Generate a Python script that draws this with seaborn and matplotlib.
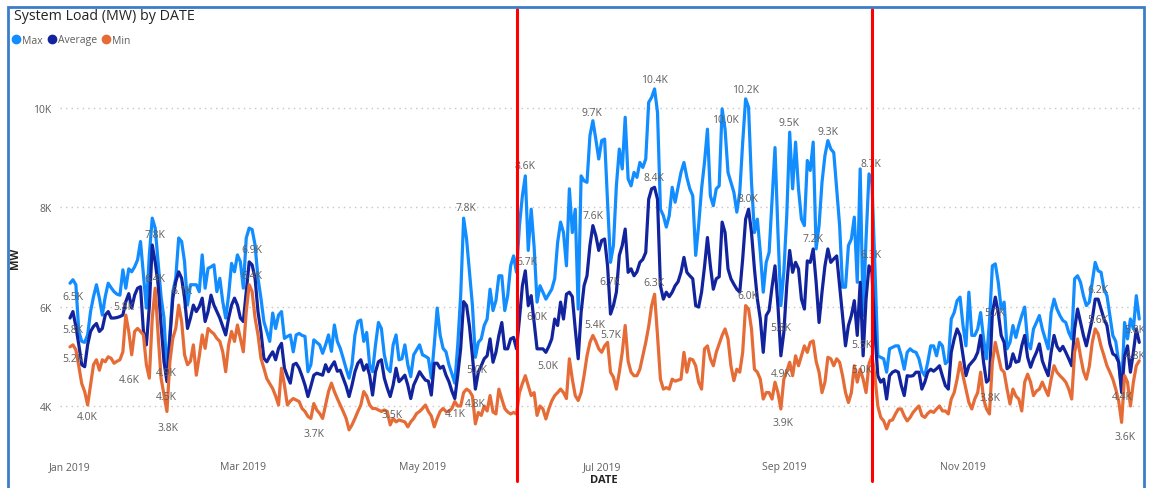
import pandas as pd
import numpy as np
import seaborn as sns
import matplotlib.pyplot as plt
from matplotlib.lines import Line2D
from matplotlib.patches import Rectangle

# Daily system load for 2019 in thousands of MW (1 Jan .. 31 Dec)
max_k = [
    6.47, 6.54, 6.44, 5.5, 5.3, 5.28, 5.43, 5.9, 6.2, 6.44, 6.17, 5.83, 6.2, 6.47, 6.38, 6.3, 6.25, 6.23, 6.74, 6.37, 6.76, 6.7, 6.8, 6.94, 7.31, 6.64, 5.97, 7.04, 7.78, 7.58, 6.9,
    6.2, 5.77, 4.62, 5.43, 6.3, 6.57, 7.38, 7.31, 6.9, 6.03, 6.44, 6.44, 6.44, 6.3, 7.04, 6.37, 6.77, 6.8, 6.84, 6.3, 6.57, 6.1, 5.77, 6.23, 6.87, 6.7, 7.04, 6.9,
    6.37, 7.38, 7.58, 7.55, 7.24, 6.57, 6.17, 5.7, 5.5, 5.3, 5.87, 5.56, 5.83, 5.9, 5.36, 5.4, 5.43, 5.09, 5.43, 5.46, 5.42, 5.4, 4.69, 4.83, 5.33, 5.28, 5.23, 5.06, 5.23, 5.43, 5.1,
    5.63, 5.3, 5.16, 4.96, 4.75, 4.56, 4.83, 5.43, 5.7, 5.73, 5.3, 5.48, 4.83, 4.69, 5.23, 5.68, 5.56, 5.03, 4.76, 4.69, 5.23, 5.43, 4.93, 4.95, 5.23, 4.83, 4.59, 5.03, 5.13, 5.23,
    5.03, 5.0, 4.96, 4.56, 5.23, 5.97, 5.43, 5.16, 5.09, 4.83, 4.65, 4.46, 5.23, 6.23, 7.78, 7.36, 6.7, 6.02, 4.98, 5.28, 5.35, 5.62, 5.75, 6.35, 5.92, 6.12, 6.62, 6.62, 5.92, 6.22, 6.82,
    7.02, 6.69, 7.63, 8.23, 8.63, 7.13, 7.96, 7.2, 6.09, 6.42, 6.29, 6.15, 6.25, 6.35, 6.56, 7.29, 7.7, 7.49, 6.82, 8.37, 7.49, 7.96, 5.95, 8.63, 8.53, 8.5, 9.44, 9.74, 9.37, 8.97,
    9.34, 9.37, 8.1, 6.89, 7.23, 8.43, 9.17, 8.77, 9.81, 8.57, 8.43, 8.7, 8.6, 8.9, 8.8, 8.97, 10.11, 10.21, 10.38, 9.91, 7.96, 7.83, 7.6, 7.83, 8.4, 8.1, 8.4, 8.7, 8.9, 8.6, 8.37,
    8.23, 7.03, 7.63, 8.37, 8.9, 9.57, 8.23, 8.03, 8.37, 8.43, 9.98, 9.57, 8.7, 8.5, 8.3, 7.9, 8.3, 9.3, 10.18, 10.01, 8.5, 7.49, 7.76, 7.09, 6.29, 6.89, 7.09, 8.16, 9.2, 7.5, 6.02,
    6.69, 7.83, 9.51, 8.37, 9.31, 8.37, 7.76, 7.63, 8.94, 8.74, 9.31, 7.16, 7.63, 8.5, 9.04, 9.34, 9.17, 9.1, 8.37, 7.63, 6.39, 6.39, 7.23, 7.36, 7.8, 6.49, 8.77, 5.82, 7.36, 8.67,
    8.5, 6.82, 5.01, 4.98, 4.95, 4.68, 5.15, 5.18, 5.21, 5.21, 5.01, 4.74, 5.08, 5.15, 5.1, 5.08, 4.95, 4.7, 4.61, 4.88, 5.21, 5.21, 5.01, 5.28, 5.21, 4.85, 4.91, 5.75, 5.88, 6.12, 6.19,
    5.62, 5.21, 6.29, 5.42, 5.42, 5.55, 5.88, 5.35, 4.95, 5.68, 6.82, 6.86, 6.49, 5.95, 6.09, 5.15, 5.28, 5.62, 5.38, 5.62, 5.82, 5.99, 5.28, 5.15, 5.55, 5.68, 5.82, 5.55, 5.35, 5.15,
    5.88, 6.15, 5.95, 5.82, 5.72, 5.68, 5.48, 5.35, 6.56, 6.62, 6.49, 6.22, 6.02, 6.09, 6.49, 6.89, 6.72, 6.69, 6.35, 6.22, 5.82, 5.42, 5.3, 4.88, 4.34, 5.68, 5.35, 5.75, 5.55, 6.22, 5.75,
]
avg_k = [
    5.77, 5.9, 5.6, 5.23, 4.83, 4.79, 5.23, 5.5, 5.6, 5.66, 5.5, 5.56, 5.83, 5.9, 5.77, 5.77, 5.78, 5.8, 5.83, 6.1, 6.26, 5.97, 6.23, 6.37, 6.4, 5.5, 5.23, 6.0, 7.24, 6.9, 6.44,
    5.63, 4.89, 4.49, 5.36, 6.17, 6.5, 6.7, 6.57, 6.17, 5.56, 5.77, 6.03, 5.9, 6.0, 6.17, 5.7, 5.9, 6.23, 6.03, 5.9, 5.77, 5.6, 5.43, 5.77, 6.03, 6.17, 6.03, 5.77,
    5.7, 6.3, 6.9, 6.84, 6.57, 5.9, 5.5, 4.96, 4.89, 5.0, 5.09, 4.93, 5.16, 5.26, 4.76, 4.6, 4.46, 4.83, 4.86, 4.76, 4.6, 4.42, 4.19, 4.4, 4.62, 4.66, 4.64, 4.62, 4.83, 4.69, 4.8,
    4.89, 4.7, 4.72, 4.56, 4.4, 4.19, 4.42, 4.69, 4.86, 4.93, 4.72, 4.83, 4.62, 4.22, 4.69, 4.89, 4.93, 4.56, 4.36, 4.19, 4.42, 4.76, 4.49, 4.55, 4.62, 4.42, 4.15, 4.42, 4.55, 4.69,
    4.6, 4.52, 4.5, 4.22, 4.86, 4.86, 4.76, 4.8, 4.62, 4.49, 4.3, 4.15, 4.62, 5.16, 6.1, 6.02, 5.6, 5.0, 4.34, 4.68, 4.81, 4.95, 5.01, 5.35, 4.88, 5.08, 5.42, 5.68, 5.15, 5.15, 5.35,
    5.38, 5.15, 5.75, 6.42, 6.72, 6.02, 6.22, 5.68, 5.15, 5.15, 5.15, 5.08, 5.2, 5.35, 5.75, 5.62, 6.09, 5.75, 6.25, 6.29, 6.2, 5.55, 4.95, 5.89, 6.42, 6.62, 7.23, 7.63, 7.43, 7.13,
    7.33, 7.36, 6.82, 5.85, 6.02, 6.29, 7.03, 7.23, 7.56, 6.69, 6.76, 6.62, 6.7, 6.89, 6.95, 7.09, 8.16, 8.37, 8.4, 8.16, 6.42, 6.15, 6.29, 6.2, 6.29, 6.42, 6.5, 6.69, 6.99, 6.69, 6.62,
    6.56, 6.02, 5.99, 6.29, 6.8, 7.39, 6.82, 6.35, 6.56, 6.6, 7.7, 7.49, 6.76, 6.56, 6.45, 6.35, 6.29, 6.96, 7.76, 7.96, 7.49, 6.76, 6.15, 5.75, 5.08, 5.82, 5.92, 6.4, 6.82, 6.02, 5.01,
    5.48, 6.42, 7.13, 6.69, 6.89, 6.76, 6.15, 5.95, 6.92, 6.89, 7.16, 6.49, 5.68, 6.29, 6.82, 7.16, 6.89, 6.96, 7.02, 6.42, 5.82, 5.21, 5.62, 5.82, 6.12, 5.42, 6.49, 5.01, 6.15, 6.82,
    6.69, 5.48, 4.61, 4.48, 4.54, 4.14, 4.61, 4.68, 4.71, 4.68, 4.41, 4.21, 4.61, 4.6, 4.61, 4.68, 4.68, 4.34, 4.48, 4.68, 4.74, 4.7, 4.75, 4.81, 4.6, 4.41, 4.34, 5.08, 5.35, 5.55, 5.42,
    5.01, 4.61, 4.81, 4.88, 4.95, 5.08, 5.42, 4.88, 4.48, 4.54, 5.88, 6.19, 5.88, 5.42, 5.28, 4.75, 4.8, 5.05, 4.88, 4.9, 5.21, 5.42, 4.98, 4.78, 4.95, 5.08, 5.25, 4.91, 4.75, 4.61,
    5.08, 5.42, 5.2, 5.11, 5.2, 5.08, 4.95, 4.81, 5.55, 5.95, 5.68, 5.42, 5.21, 5.48, 5.75, 6.15, 6.15, 5.95, 5.75, 5.62, 5.25, 5.05, 5.01, 4.88, 4.27, 5.0, 5.21, 4.68, 5.08, 5.55, 5.28,
]
min_k = [
    5.19, 5.23, 5.13, 4.8, 4.45, 4.29, 4.02, 4.42, 4.83, 4.93, 4.72, 4.93, 4.89, 4.99, 4.96, 4.86, 4.9, 4.93, 5.09, 5.83, 5.5, 5.03, 5.5, 5.56, 5.5, 5.43, 4.83, 4.56, 5.77, 6.37, 5.43,
    4.56, 4.22, 3.89, 4.89, 5.36, 5.56, 6.03, 5.7, 5.03, 4.83, 4.9, 5.23, 4.62, 5.0, 5.43, 5.16, 5.56, 5.5, 5.45, 5.36, 5.3, 5.09, 4.69, 5.23, 5.5, 5.3, 5.63, 5.36,
    5.09, 5.9, 6.44, 6.3, 5.77, 5.43, 4.96, 4.76, 4.55, 4.45, 4.35, 4.2, 4.02, 4.76, 4.42, 4.02, 4.1, 4.15, 4.12, 4.09, 3.95, 3.89, 3.79, 3.75, 4.05, 3.92, 3.85, 3.75, 4.02, 4.29, 4.46,
    4.29, 4.15, 4.02, 3.89, 3.75, 3.52, 3.62, 3.75, 3.89, 4.02, 4.29, 4.2, 4.02, 3.95, 3.95, 3.92, 3.89, 3.92, 3.89, 3.62, 3.75, 3.68, 3.72, 3.7, 3.68, 3.58, 3.68, 3.75, 3.85, 3.89,
    3.95, 4.02, 3.89, 3.8, 3.58, 3.75, 3.89, 3.95, 3.89, 3.89, 3.95, 4.09, 4.0, 4.0, 4.27, 4.34, 4.3, 4.2, 3.64, 3.87, 3.81, 4.0, 3.9, 4.21, 3.88, 3.84, 4.34, 4.14, 3.95, 3.88, 3.84,
    3.87, 3.84, 4.27, 4.45, 4.61, 4.41, 4.21, 4.27, 3.81, 4.0, 3.94, 3.74, 3.94, 4.1, 4.21, 4.27, 4.34, 4.27, 4.15, 4.95, 4.54, 4.21, 4.11, 4.27, 4.61, 5.01, 5.28, 5.42, 5.3, 5.15,
    5.08, 5.21, 5.28, 4.68, 4.58, 4.34, 4.68, 5.08, 5.62, 4.9, 4.68, 4.61, 4.61, 4.74, 5.01, 5.28, 5.6, 6.02, 6.25, 5.42, 4.54, 4.34, 4.37, 4.34, 4.54, 4.5, 4.52, 4.54, 5.08, 4.68, 4.95,
    4.93, 4.81, 4.48, 4.34, 5.15, 5.21, 4.95, 4.81, 5.08, 5.25, 5.42, 5.55, 5.35, 4.81, 4.51, 4.74, 4.68, 5.08, 6.02, 5.95, 5.55, 4.74, 4.68, 4.54, 4.14, 4.27, 4.27, 4.14, 4.48, 4.27, 3.94,
    4.54, 4.7, 4.88, 4.61, 5.01, 4.81, 5.01, 5.21, 5.08, 5.28, 5.31, 4.9, 4.68, 4.27, 4.48, 4.98, 4.95, 4.81, 4.95, 4.88, 4.61, 4.27, 4.07, 4.27, 4.81, 4.48, 4.74, 4.54, 4.27, 4.85,
    5.01, 4.61, 4.0, 3.77, 3.7, 3.54, 3.7, 3.72, 3.84, 3.94, 3.94, 3.8, 3.7, 3.77, 3.87, 3.94, 4.0, 3.81, 3.77, 3.85, 3.9, 3.87, 3.94, 4.0, 3.9, 3.9, 3.84, 4.14, 4.27, 4.54, 4.88,
    4.61, 4.34, 4.07, 3.94, 4.14, 4.27, 4.68, 4.14, 3.94, 3.84, 4.88, 5.28, 5.01, 4.74, 4.68, 4.34, 4.04, 4.34, 4.2, 4.14, 3.9, 4.48, 4.64, 4.48, 4.21, 4.3, 4.34, 4.48, 4.34, 4.21,
    4.54, 4.81, 4.68, 4.61, 4.55, 4.48, 4.34, 4.14, 5.08, 5.35, 5.0, 4.7, 4.54, 4.8, 5.28, 5.55, 5.45, 5.2, 5.01, 4.81, 4.68, 4.54, 4.34, 4.1, 3.67, 4.61, 4.48, 4.0, 4.48, 4.81, 4.91,
]

series_names = ["Max", "Average", "Min"]
series_colors = ["#118DFF", "#12239E", "#E66C37"]

tick_dates = ["2019-01-01", "2019-03-01", "2019-05-01", "2019-07-01", "2019-09-01", "2019-11-01"]
tick_names = ["Jan 2019", "Mar 2019", "May 2019", "Jul 2019", "Sep 2019", "Nov 2019"]
y_ticks = [4000, 6000, 8000, 10000]
y_tick_names = ["4K", "6K", "8K", "10K"]

# data labels as they sit on the chart: day of year (0 = 1 Jan), height in MW, text
label_day = [1.0, 1.0, 1.0, 5.8, 20.1, 18.4, 28.9, 28.9, 38.1, 32.7, 32.7, 33.4, 62.0, 62.0, 83.1,
             109.6, 131.1, 134.8, 138.6, 137.9, 154.9, 155.6, 159.0, 162.7, 177.7, 178.0, 183.8,
             178.7, 184.2, 199.1, 198.8, 198.8, 223.0, 229.8, 230.8, 230.8, 244.8, 258.0, 252.9,
             242.0, 242.0, 242.7, 272.7, 272.7, 269.6, 269.6, 313.2, 314.9, 350.0, 350.0, 362.6,
             362.6, 358.1, 359.1]
label_mw = [6213, 5549, 4946, 3779, 4543, 6012, 7441, 6575, 6314, 4684, 4201, 3577, 7139, 6616, 3437,
            3819, 3859, 8004, 4744, 4060, 8829, 6917, 5791, 4805, 9915, 7823, 6495,
            5630, 5429, 10579, 8607, 6475, 9774, 10378, 8185, 6233, 9714, 9533, 7380,
            5589, 4644, 3678, 8889, 7058, 5247, 4744, 4181, 5891, 6354, 5750, 5549,
            5026, 4201, 3396]
label_text = ["6.5K", "5.8K", "5.2K", "4.0K", "4.6K", "5.8K", "7.8K", "6.4K", "6.1K", "4.9K", "4.5K", "3.8K", "6.9K", "6.4K", "3.7K",
              "3.5K", "4.1K", "7.8K", "5.0K", "4.8K", "8.6K", "6.7K", "6.0K", "5.0K", "9.7K", "7.6K", "6.7K",
              "5.4K", "5.7K", "10.4K", "8.4K", "6.3K", "10.0K", "10.2K", "8.0K", "6.0K", "9.5K", "9.3K", "7.2K",
              "5.8K", "4.9K", "3.9K", "8.7K", "6.3K", "5.5K", "5.0K", "3.8K", "5.7K", "6.2K", "5.6K", "5.8K",
              "4.8K", "4.4K", "3.6K"]

# the two red markers drawn over the chart
marker_dates = ["2019-06-02", "2019-10-01"]

# build a long table for seaborn
frames = []
for name, vals in zip(series_names, [max_k, avg_k, min_k]):
    frames.append(pd.DataFrame({
        "DATE": pd.date_range("2019-01-01", periods=len(vals), freq="D"),
        "MW": np.array(vals) * 1000,
        "series": name,
    }))
df = pd.concat(frames, ignore_index=True)

sns.set_theme(style="white")
plt.rcParams["font.family"] = ["Open Sans", "DejaVu Sans"]

W, H = 1152, 489
fig = plt.figure(figsize=(W / 100, H / 100), dpi=100)

# plot area in pixels: x 60..1145, y 60..452
ax = fig.add_axes([60 / W, (H - 452) / H, (1145 - 60) / W, (452 - 60) / H])

palette = dict(zip(series_names, series_colors))
sns.lineplot(data=df, x="DATE", y="MW", hue="series", hue_order=series_names,
             palette=palette, linewidth=2.3, legend=False, ax=ax)

start = pd.Timestamp("2019-01-01")
px_day = 2.9375
ax.set_xlim(start - pd.Timedelta(days=10 / px_day), start + pd.Timedelta(days=(1145 - 70) / px_day))
mw_px = 1000 / 49.7
ax.set_ylim(4000 - (452 - 407) * mw_px, 4000 + (407 - 60) * mw_px)

for s in ax.spines.values():
    s.set_visible(False)

ax.set_yticks(y_ticks)
ax.set_yticklabels(y_tick_names)
ax.set_xticks(pd.to_datetime(tick_dates))
ax.set_xticklabels(tick_names)
ax.tick_params(axis="both", length=0, labelsize=7.5, labelcolor="#605E5C")
ax.tick_params(axis="y", pad=6)
ax.tick_params(axis="x", pad=7)
ax.yaxis.grid(True, linestyle=(0, (1, 3)), color="#C8C6C4", linewidth=1)
ax.xaxis.grid(False)

ax.set_xlabel("DATE", fontsize=8, fontweight="bold", color="#252423")
ax.set_ylabel("MW", fontsize=8, fontweight="bold", color="#252423")
ax.xaxis.set_label_coords((604 - 60) / 1085, (452 - 475) / 392)
ax.yaxis.set_label_coords((21 - 60) / 1085, (452 - 258) / 392)

# data labels
for d, v, t in zip(label_day, label_mw, label_text):
    ax.text(start + pd.Timedelta(days=d), v, t, ha="center", va="center",
            fontsize=7.5, color="#605E5C", zorder=5)

# red markers running over the whole visual
for md in marker_dates:
    ax.axvline(pd.Timestamp(md), ymin=(452 - 482) / 392, ymax=(452 - 10) / 392,
               color="#FF0000", linewidth=2.2, clip_on=False, zorder=6)

# title and legend
fig.text(14 / W, 1 - 17 / H, "System Load (MW) by DATE", ha="left", va="center",
         fontsize=10.3, color="#252423")
handles = [Line2D([], [], marker="o", linestyle="", markersize=6, color=c) for c in series_colors]
fig.legend(handles, series_names, loc="center left", bbox_to_anchor=(6 / W, 1 - 41 / H),
           ncol=3, frameon=False, fontsize=7.5, labelcolor="#605E5C",
           handletextpad=0.05, columnspacing=0.4, handlelength=1.0, borderpad=0)

# blue frame of the visual
fig.patches.append(Rectangle((8 / W, -0.02), (1144 - 8) / W, 1 - 8 / H + 0.02,
                             transform=fig.transFigure, fill=False,
                             edgecolor="#3A7DC9", linewidth=2))

fig.savefig("out.png", dpi=100)
